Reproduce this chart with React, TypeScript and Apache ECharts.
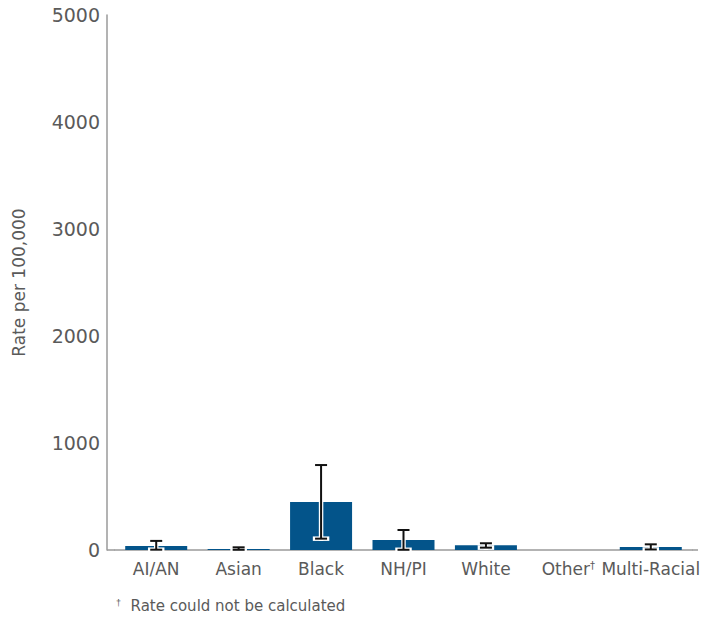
import React, { useEffect, useRef } from "react";
import * as echarts from "echarts";

const categories = ["AI/AN", "Asian", "Black", "NH/PI", "White", "Other", "Multi-Racial"];
const rates: (number | null)[] = [37, 10, 449, 93, 44, null, 28];
const lowCI: (number | null)[] = [3, 2, 106, 2, 22, null, 5];
const highCI: (number | null)[] = [85, 25, 794, 187, 63, null, 53];
const footnoteCategories = ["Other"];
const yTicks = [0, 1000, 2000, 3000, 4000, 5000];

const FONT = "'DejaVu Sans', sans-serif";
const GREY = "#5a5a5a";

export default function App() {
  const ref = useRef<HTMLDivElement>(null);
  useEffect(() => {
    if (!ref.current) return;
    const chart = echarts.init(ref.current, null, { renderer: "svg" });
    const errData = categories.map((c, i) => [i, lowCI[i], highCI[i]]).filter((d) => d[1] != null);
    chart.setOption({
      animation: false,
      textStyle: { fontFamily: FONT },
      grid: { left: 115, right: 25, top: 15, bottom: 70, containLabel: false },
      xAxis: {
        type: "category",
        data: categories,
        axisTick: { show: false },
        axisLine: { lineStyle: { color: "#9a9a9a", width: 1.5 } },
        axisLabel: {
          color: GREY,
          fontSize: 17,
          fontFamily: FONT,
          margin: 10,
          interval: 0,
          formatter: (v: string) => (footnoteCategories.includes(v) ? v + "{sup|†}" : v),
          rich: { sup: { fontSize: 10, color: GREY, verticalAlign: "top", padding: [0, 0, 6, 0] } },
        },
      },
      yAxis: {
        type: "value",
        min: yTicks[0],
        max: yTicks[yTicks.length - 1],
        interval: 1000,
        offset: 8,
        name: "Rate per 100,000",
        nameLocation: "middle",
        nameGap: 80,
        nameTextStyle: { color: GREY, fontSize: 17, fontFamily: FONT },
        axisLine: { show: true, lineStyle: { color: "#9a9a9a", width: 1.5 } },
        axisTick: { show: false },
        splitLine: { show: false },
        axisLabel: { color: GREY, fontSize: 19, fontFamily: FONT, margin: 7, formatter: (v: number) => String(v) },
      },
      graphic: [
        {
          type: "line",
          shape: { x1: 107, y1: 550, x2: 115, y2: 550 },
          style: { stroke: "#9a9a9a", lineWidth: 1.5 },
        },
        {
          type: "line",
          shape: { x1: 692, y1: 550, x2: 698, y2: 550 },
          style: { stroke: "#9a9a9a", lineWidth: 1.5 },
        },
        {
          type: "text",
          left: 116,
          top: 598,
          style: {
            text: "{sup|†}  Rate could not be calculated",
            fill: GREY,
            font: `15px ${FONT}`,
            rich: { sup: { fontSize: 9, fill: GREY, verticalAlign: "top" } },
          },
        },
      ],
      series: [
        {
          type: "bar",
          data: rates,
          barWidth: 62,
          itemStyle: { color: "#03548a" },
        },
        {
          type: "custom",
          data: errData,
          z: 10,
          renderItem: (params: any, api: any) => {
            const idx = api.value(0);
            const lo = api.coord([idx, api.value(1)]);
            const hi = api.coord([idx, api.value(2)]);
            const x = lo[0];
            const hw = 6;
            const segs = [
              [x, lo[1], x, hi[1]],
              [x - hw, hi[1], x + hw, hi[1]],
              [x - hw, lo[1], x + hw, lo[1]],
            ];
            const children: any[] = [];
            segs.forEach((s) =>
              children.push({
                type: "line",
                shape: { x1: s[0], y1: s[1], x2: s[2], y2: s[3] },
                style: { stroke: "#ffffff", lineWidth: 4.5, lineCap: "square" },
              })
            );
            segs.forEach((s) =>
              children.push({
                type: "line",
                shape: { x1: s[0], y1: s[1], x2: s[2], y2: s[3] },
                style: { stroke: "#111111", lineWidth: 2 },
              })
            );
            return { type: "group", children };
          },
        },
      ],
    });
    return () => chart.dispose();
  }, []);
  return <div ref={ref} style={{ width: 717, height: 620, position: "absolute", left: 0, top: 0 }} />;
}
